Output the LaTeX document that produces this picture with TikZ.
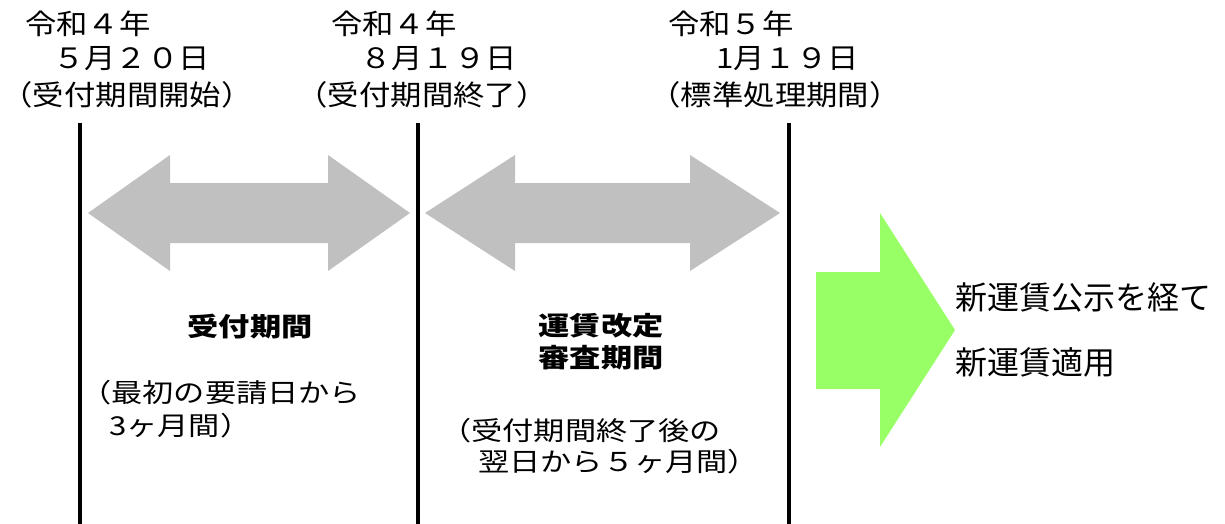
\documentclass[tikz,border=0pt]{standalone}
\usepackage{fontspec}
\setmainfont{Noto Sans CJK JP}
\newfontfamily\topfont[FakeStretch=1.12]{Noto Sans CJK JP}
\newfontfamily\widefont[FakeStretch=1.2]{Noto Sans CJK JP}
\definecolor{arrowgray}{RGB}{192,192,192}
\definecolor{arrowgreen}{RGB}{153,255,102}
\tikzset{
  datetxt/.style={inner sep=0pt, anchor=west, font=\topfont\fontsize{28}{28}\selectfont},
  datemid/.style={inner sep=0pt, anchor=center, font=\topfont\fontsize{28}{28}\selectfont},
  bigtxt/.style={inner sep=0pt, anchor=center, font=\widefont\fontsize{26}{26}\selectfont\bfseries},
  subtxt/.style={inner sep=0pt, anchor=west, font=\widefont\fontsize{26}{26}\selectfont},
  righttxt/.style={inner sep=0pt, anchor=west, font=\fontsize{32}{32}\selectfont},
  divline/.style={line width=4pt, black},
  grayarrow/.style={fill=arrowgray, draw=none},
  greenarrow/.style={fill=arrowgreen, draw=none}
}
\begin{document}
\begin{tikzpicture}[x=1pt,y=-1pt]
\useasboundingbox (0,0) rectangle (1225,524);
% divider lines
\coordinate (l1t) at (80,123); \coordinate (l1b) at (80,524);
\coordinate (l2t) at (418,123); \coordinate (l2b) at (418,524);
\coordinate (l3t) at (789,123); \coordinate (l3b) at (789,524);
\draw[divline] (l1t) -- (l1b);
\draw[divline] (l2t) -- (l2b);
\draw[divline] (l3t) -- (l3b);
% gray double arrows
\fill[grayarrow] (88,213) -- (170,155) -- (170,183) -- (328,183) -- (328,155) -- (410,213)
  -- (328,271) -- (328,243) -- (170,243) -- (170,271) -- cycle;
\fill[grayarrow] (425,213) -- (515,155) -- (515,183) -- (690,183) -- (690,155) -- (780,213)
  -- (690,271) -- (690,243) -- (515,243) -- (515,271) -- cycle;
% green arrow
\fill[greenarrow] (816,272) -- (880,272) -- (880,213) -- (955,330) -- (880,447) -- (880,389)
  -- (816,389) -- cycle;
% top date labels
\node[datetxt] (d1a) at (25,24) {令和４年};
\node[datetxt] (d1b) at (53,59) {５月２０日};
\node[datemid] (d1c) at (127,95) {（受付期間開始）};
\node[datetxt] (d2a) at (331,24) {令和４年};
\node[datetxt] (d2b) at (360,59) {８月１９日};
\node[datemid] (d2c) at (422,95) {（受付期間終了）};
\node[datetxt] (d3a) at (668,24) {令和５年};
\node[datetxt] (d3b) at (716,59) {1月１９日};
\node[datemid] (d3c) at (775,95) {（標準処理期間）};
% period labels
\node[bigtxt] (p1) at (250,327) {受付期間};
\node[subtxt] (p1a) at (80,393) {（最初の要請日から};
\node[subtxt] (p1b) at (109,426) {3ヶ月間）};
\node[bigtxt] (p2a) at (601,326) {運賃改定};
\node[bigtxt] (p2b) at (601,358) {審査期間};
\node[subtxt] (p2c) at (440,431) {（受付期間終了後の};
\node[subtxt] (p2d) at (478,462) {翌日から５ヶ月間）};
% right labels
\node[righttxt] (r1) at (955,297) {新運賃公示を経て};
\node[righttxt] (r2) at (955,362) {新運賃適用};
\end{tikzpicture}
\end{document}
